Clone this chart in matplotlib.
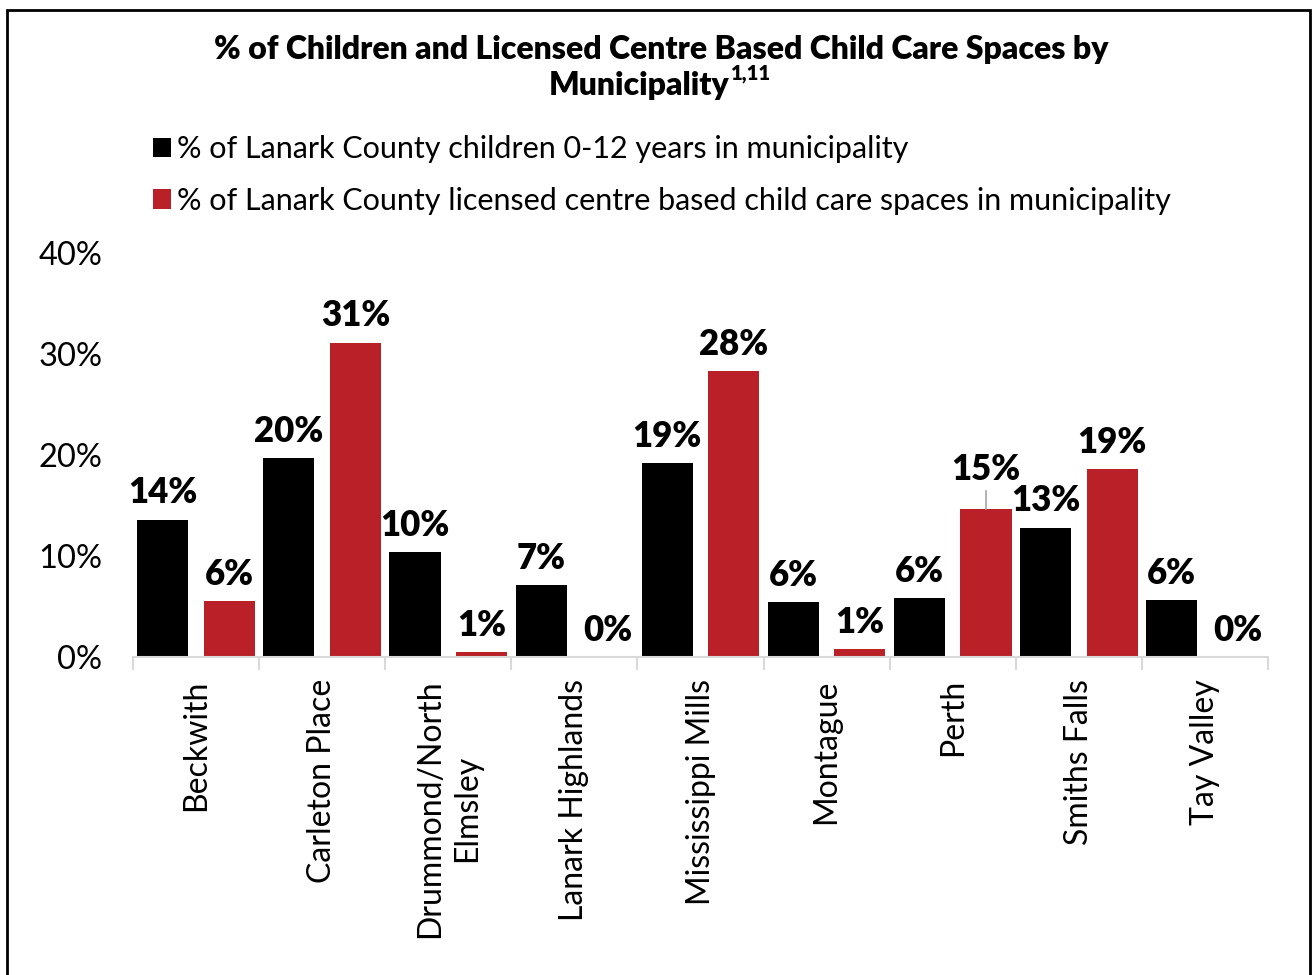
import matplotlib
matplotlib.use("Agg")
import matplotlib.pyplot as plt
from matplotlib.patches import Rectangle
import numpy as np

categories = ["Beckwith", "Carleton Place", "Drummond/North\nElmsley", "Lanark Highlands",
              "Mississippi Mills", "Montague", "Perth", "Smiths Falls", "Tay Valley"]
children_pct = [13.6, 19.7, 10.4, 7.1, 19.2, 5.4, 5.8, 12.8, 5.6]
spaces_pct = [5.5, 31.1, 0.5, 0.0, 28.3, 0.8, 14.7, 18.6, 0.0]
children_labels = ["14%", "20%", "10%", "7%", "19%", "6%", "6%", "13%", "6%"]
spaces_labels = ["6%", "31%", "1%", "0%", "28%", "1%", "15%", "19%", "0%"]
yticks = [0, 10, 20, 30, 40]
ytick_labels = ["0%", "10%", "20%", "30%", "40%"]
series_names = ["% of Lanark County children 0-12 years in municipality",
                "% of Lanark County licensed centre based child care spaces in municipality"]

BLACK = "#000000"
RED = "#BA2028"
GRAY = "#D9D9D9"
FONT = ["Lato", "DejaVu Sans"]
plt.rcParams['font.family'] = FONT

fig = plt.figure(figsize=(13.13, 9.75), dpi=100)
ax = fig.add_axes([133/1313, 1-657/975, (1268-133)/1313, (657-253)/975])

x = np.arange(len(categories))
w = 0.405
off = 0.264
b1 = ax.bar(x - off, children_pct, w, color=BLACK, label=series_names[0])
b2 = ax.bar(x + off, spaces_pct, w, color=RED, label=series_names[1])

ax.set_xlim(-0.5, len(categories) - 0.5)
ax.set_ylim(0, 40)
ax.set_yticks(yticks)
ax.set_yticklabels(ytick_labels, fontsize=23.5, color="#000000")
ax.tick_params(axis='y', length=0, pad=22)

ax.set_xticks(x)
ax.set_xticklabels(categories, rotation=90, fontsize=23, ha='center', va='top',
                   multialignment='center', linespacing=1.3)
ax.tick_params(axis='x', length=0, pad=16)
ax.set_xticks(np.arange(len(categories) + 1) - 0.5, minor=True)
ax.tick_params(axis='x', which='minor', length=9, color=GRAY, width=1.5)

for s in ['top', 'right', 'left']:
    ax.spines[s].set_visible(False)
ax.spines['bottom'].set_color(GRAY)
ax.spines['bottom'].set_linewidth(1.5)

LBL = dict(ha='center', va='bottom', fontsize=25, fontweight='heavy',
           textcoords='offset points')
for i in range(len(categories)):
    ax.annotate(children_labels[i], (x[i] - off, children_pct[i]), xytext=(0, 7.5), **LBL)
    if categories[i] == "Perth":
        ax.annotate(spaces_labels[i], (x[i] + off, spaces_pct[i]), xytext=(0, 16), **LBL)
        ax.plot([x[i] + off, x[i] + off], [spaces_pct[i], spaces_pct[i] + 1.7],
                color="#A6A6A6", lw=1.2)
    else:
        ax.annotate(spaces_labels[i], (x[i] + off, spaces_pct[i]), xytext=(0, 7.5), **LBL)

fig.legend(handles=[b1, b2], labels=series_names, loc='upper left',
           bbox_to_anchor=(153/1313, 1-135/975), frameon=False, fontsize=22,
           handlelength=0.6, handleheight=0.6, handletextpad=0.2,
           labelspacing=0.78, borderpad=0, borderaxespad=0)

fig.text(661/1313, 1-50/975, "% of Children and Licensed Centre Based Child Care Spaces by",
         ha='center', va='center', fontsize=23, fontweight='heavy')
t2 = fig.text(639/1313, 1-86/975, "Municipality", ha='center', va='center',
              fontsize=23, fontweight='heavy')
ax.annotate("1,11", xy=(1.0, 0.6), xycoords=t2, xytext=(1, 0), textcoords='offset points',
            ha='left', va='bottom', fontsize=14.5, fontweight='heavy', annotation_clip=False)

fig.add_artist(Rectangle((7/1313, -0.05), (1310-7)/1313, 1.05 - 10/975,
                         transform=fig.transFigure, fill=False, edgecolor='black', lw=2))

fig.savefig("out.png", dpi=100)
